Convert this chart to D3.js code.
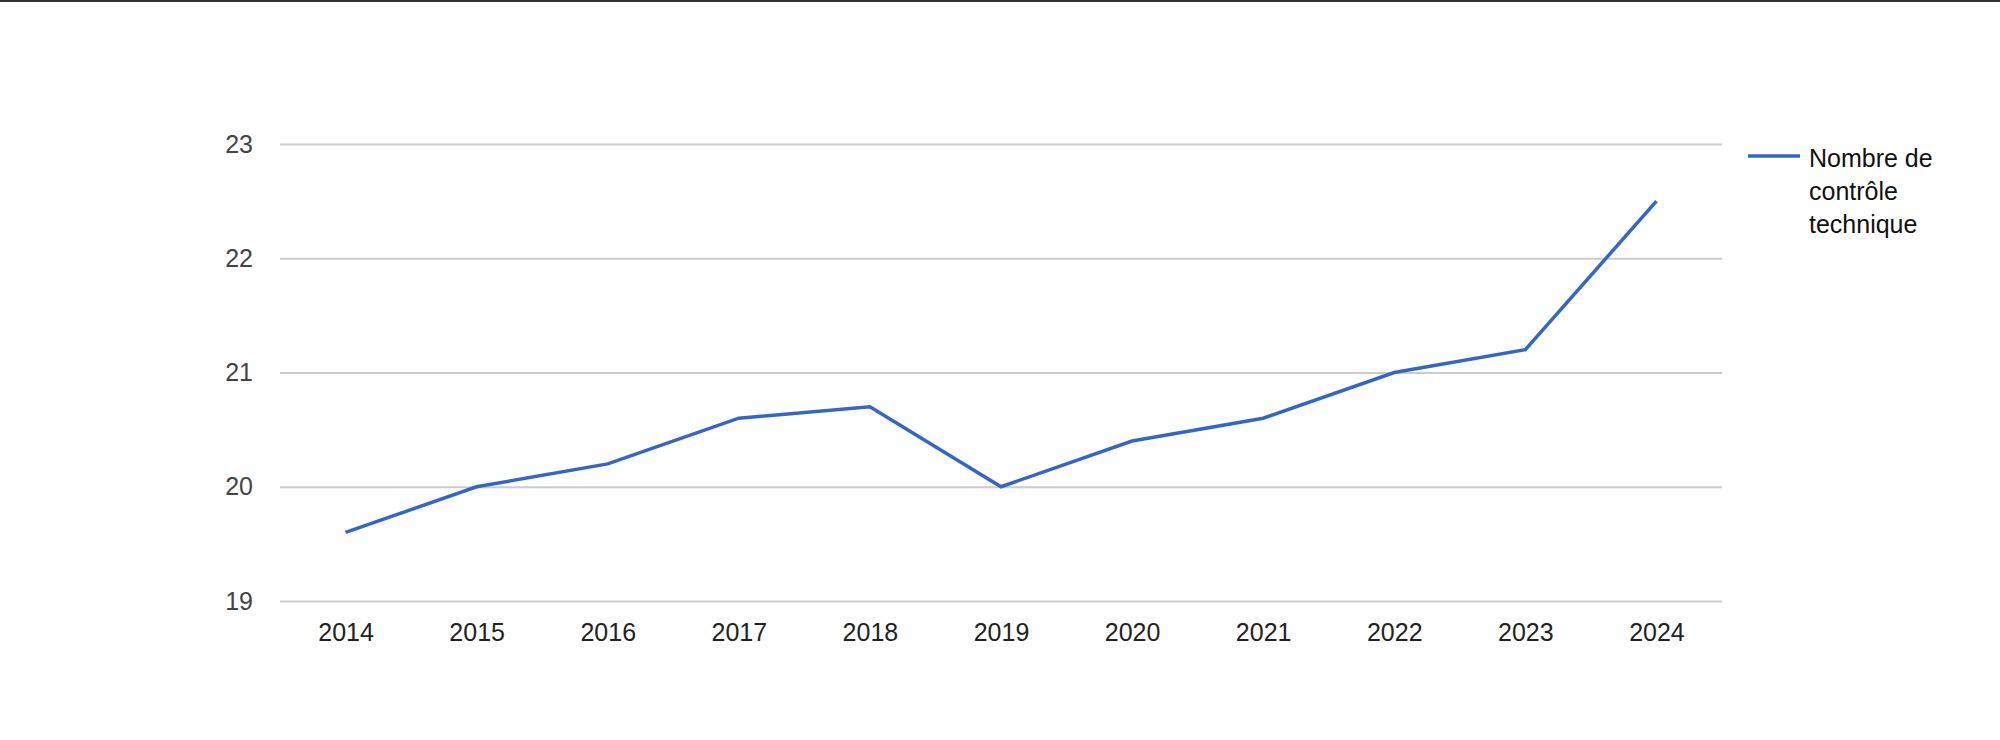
<!DOCTYPE html>
<html>
<head>
<meta charset="utf-8">
<script src="https://cdn.jsdelivr.net/npm/d3@7"></script>
<style>
  html, body { margin: 0; padding: 0; background: #fff; }
  body { width: 2000px; height: 740px; overflow: hidden; border-top: 2px solid #333; box-sizing: border-box; }
  svg { display: block; font-family: "Liberation Sans", Arial, Helvetica, sans-serif; }
</style>
</head>
<body>
<script>
var years = ['2014', '2015', '2016', '2017', '2018', '2019', '2020', '2021', '2022', '2023', '2024'];
var values = [19.6, 20.0, 20.2, 20.6, 20.7, 20.0, 20.4, 20.6, 21.0, 21.2, 22.5];
var yTicks = [19, 20, 21, 22, 23];
var seriesName = ['Nombre de', 'contrôle', 'technique'];

var w = 2000;
var h = 738;
// plot area (note: "top" is reserved on window, so use m* names)
var mLeft = 280, mRight = 1722, mTop = 142, mBottom = 599;

var svg = d3.select('body')
            .append('svg')
            .attr('width', w)
            .attr('height', h);

var x = d3.scalePoint()
  .domain(years)
  .range([mLeft, mRight])
  .padding(0.5);

var y = d3.scaleLinear()
  .domain([19, 23])
  .range([mBottom, mTop]);

// horizontal gridlines + y labels
var yAxis = svg.append('g')
  .attr('transform', 'translate(' + mLeft + ',0)')
  .call(d3.axisLeft(y)
    .tickValues(yTicks)
    .tickSize(-(mRight - mLeft))
    .tickPadding(27)
    .tickFormat(d3.format('d')));
yAxis.select('.domain').remove();
yAxis.selectAll('line').attr('stroke', '#cccccc').attr('stroke-width', 2);
yAxis.selectAll('text')
  .attr('fill', '#444')
  .attr('font-size', '25px');

// x labels
var xAxis = svg.append('g')
  .attr('transform', 'translate(0,' + mBottom + ')')
  .call(d3.axisBottom(x).tickSize(0).tickPadding(22));
xAxis.select('.domain').remove();
xAxis.selectAll('text')
  .attr('fill', '#222')
  .attr('font-size', '25px');

// the series line
var line = d3.line()
  .x((d, i) => x(years[i]))
  .y((d) => y(d));

svg.append('path')
  .datum(values)
  .attr('d', line)
  .attr('fill', 'none')
  .attr('stroke', '#3366cc')
  .attr('stroke-width', 3.5);

// legend
var legend = svg.append('g').attr('transform', 'translate(1748,154)');
legend.append('line')
  .attr('x1', 0).attr('x2', 52)
  .attr('y1', 0).attr('y2', 0)
  .attr('stroke', '#3366cc')
  .attr('stroke-width', 3.5);
legend.append('text')
  .attr('font-size', '25px')
  .attr('fill', '#111')
  .selectAll('tspan')
  .data(seriesName)
  .enter()
  .append('tspan')
    .attr('x', 61)
    .attr('y', (d, i) => 11 + i * 33)
    .text((d) => d);
</script>
</body>
</html>
